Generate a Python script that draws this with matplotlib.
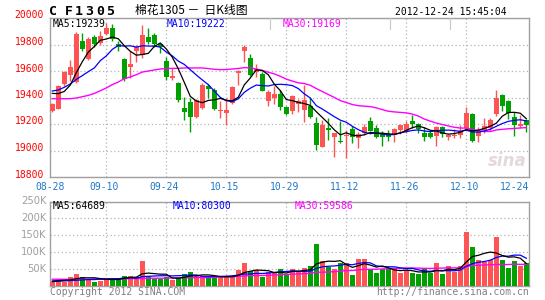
import matplotlib
matplotlib.use('Agg')
import matplotlib.pyplot as plt
import matplotlib.transforms as mtrans
import numpy as np
import pandas as pd

# ---------------- data ----------------
date_labels = ['08-28', '09-10', '09-24', '10-15', '10-29', '11-12', '11-26', '12-10', '12-24']
date_index = [0, 9, 19, 29, 39, 49, 59, 69, 79]

opens = [19296, 19316, 19502, 19572, 19517, 19824, 19693, 19854, 19809, 19879,
         19925, 19804, 19688, 19630, 19748, 19720, 19859, 19872, 19801, 19678,
         19550, 19507, 19318, 19369, 19255, 19320, 19487, 19460, 19300, 19283,
         19358, 19588, 19748, 19700, 19590, 19578, 19376, 19400, 19426, 19330,
         19298, 19352, 19306, 19336, 19208, 19030, 19167, 19100, 19072, 19107,
         19165, 19094, 19130, 19220, 19170, 19132, 19119, 19114, 19157, 19150,
         19220, 19200, 19132, 19132, 19110, 19178, 19100, 19112, 19119, 19168,
         19277, 19112, 19155, 19168, 19275, 19420, 19373, 19256, 19185, 19230]
highs = [19360, 19497, 19602, 19685, 19895, 19889, 19855, 19869, 19900, 19960,
         19955, 19824, 19698, 19748, 19799, 19950, 19922, 19884, 19809, 19703,
         19620, 19520, 19401, 19394, 19390, 19510, 19502, 19475, 19376, 19396,
         19485, 19610, 19800, 19730, 19655, 19595, 19457, 19485, 19460, 19335,
         19420, 19385, 19495, 19394, 19255, 19232, 19243, 19135, 19225, 19157,
         19182, 19140, 19200, 19250, 19195, 19150, 19157, 19170, 19200, 19220,
         19265, 19207, 19175, 19157, 19188, 19185, 19125, 19160, 19195, 19332,
         19282, 19180, 19245, 19243, 19460, 19426, 19378, 19294, 19265, 19238]
lows = [19290, 19310, 19484, 19522, 19510, 19748, 19685, 19779, 19800, 19874,
        19824, 19750, 19527, 19547, 19668, 19700, 19804, 19784, 19733, 19532,
        19535, 19369, 19230, 19142, 19245, 19315, 19396, 19306, 19245, 19195,
        19350, 19497, 19670, 19565, 19557, 19450, 19336, 19350, 19306, 19270,
        19275, 19290, 19218, 19243, 19004, 19025, 19079, 18948, 19060, 18945,
        19057, 19019, 19120, 19145, 19094, 19031, 19074, 19064, 19124, 19132,
        19170, 19132, 19074, 19094, 19032, 19100, 19080, 19092, 19094, 19157,
        19064, 19067, 19132, 19150, 19260, 19296, 19235, 19112, 19170, 19143]
closes = [19351, 19484, 19592, 19628, 19879, 19769, 19844, 19804, 19864, 19925,
          19844, 19779, 19542, 19653, 19779, 19870, 19821, 19804, 19784, 19552,
          19560, 19381, 19293, 19255, 19380, 19495, 19467, 19316, 19308, 19308,
          19477, 19602, 19782, 19568, 19615, 19452, 19442, 19425, 19326, 19278,
          19410, 19377, 19381, 19255, 19042, 19193, 19155, 19135, 19066, 19119,
          19105, 19124, 19180, 19150, 19100, 19099, 19100, 19165, 19195, 19200,
          19200, 19165, 19099, 19099, 19176, 19125, 19118, 19120, 19150, 19282,
          19070, 19145, 19186, 19232, 19397, 19335, 19282, 19195, 19198, 19192]
volumes_k = [13, 21, 12, 27, 35, 27, 20, 13, 15, 24,
             24, 20, 30, 30, 26, 75, 30, 22, 22, 26,
             18, 26, 36, 42, 30, 30, 26, 26, 26, 30,
             30, 46, 67, 45, 48, 26, 40, 40, 50, 36,
             50, 40, 54, 59, 124, 75, 56, 50, 69, 68,
             33, 80, 80, 49, 38, 49, 53, 49, 38, 47,
             39, 35, 49, 37, 68, 35, 59, 42, 59, 160,
             115, 78, 71, 78, 146, 78, 54, 75, 58, 68]

# moving-average values visible before enough history exists
ma5_head = [19431, 19429, 19446, 19494]
ma10_head = [19449, 19457, 19477, 19502, 19537, 19565, 19595, 19623, 19678]
ma30_head = [19391, 19391, 19391, 19391, 19396, 19406, 19416, 19431, 19451, 19472,
             19497, 19517, 19542, 19555, 19572, 19592, 19600, 19608, 19615, 19618,
             19620, 19620, 19623, 19623, 19623, 19623, 19618, 19613, 19610]
vma5_head = [15, 16, 17, 18]
vma10_head = [13, 14, 15, 16, 17, 18, 19, 19, 20]
vma30_head = [20, 20, 20, 20, 20, 20, 20, 21, 21, 21, 21, 21, 21, 22, 22,
              22, 23, 23, 23, 23, 24, 24, 24, 24, 25, 25, 25, 26, 26]

price_ticks = [18800, 19000, 19200, 19400, 19600, 19800, 20000]
vol_ticks = [50000, 100000, 150000, 200000, 250000]
vol_tick_labels = ['50K', '100K', '150K', '200K', '250K']

legend_price = ['MA5:19239', 'MA10:19222', 'MA30:19169']
legend_vol = ['MA5:64689', 'MA10:80300', 'MA30:59586']


def with_head(vals, n, head):
    s = pd.Series(vals, dtype=float).rolling(n).mean().values
    s[:len(head)] = head
    return s


volumes = [v * 1000 for v in volumes_k]
ma5 = with_head(closes, 5, ma5_head)
ma10 = with_head(closes, 10, ma10_head)
ma30 = with_head(closes, 30, ma30_head)
vma5 = with_head(volumes, 5, [v * 1000 for v in vma5_head])
vma10 = with_head(volumes, 10, [v * 1000 for v in vma10_head])
vma30 = with_head(volumes, 30, [v * 1000 for v in vma30_head])

# ---------------- style ----------------
RED = '#ff5454'
GREEN = '#00a000'
FRAME = '#a0a0a0'
GRID = '#b4b4b4'
MONO = 'DejaVu Sans Mono'
W, H = 545, 300

fig = plt.figure(figsize=(W / 100, H / 100), dpi=100)
fig.patch.set_facecolor('white')


def rect(x0, y0, x1, y1):
    return [x0 / W, 1 - y1 / H, (x1 - x0) / W, (y1 - y0) / H]


def fpos(x, y):
    return x / W, 1 - y / H


axp = fig.add_axes(rect(50, 18, 529, 177))
axv = fig.add_axes(rect(50, 201.5, 529, 286))

n = len(closes)
xs = np.arange(n)
xlim = ((50 - 52.3) / 6, (529 - 52.3) / 6)
colors = [RED if c >= o else GREEN for o, c in zip(opens, closes)]

for ax in (axp, axv):
    ax.set_xlim(*xlim)
    ax.set_xticks(date_index[1:-1])
    ax.tick_params(length=0, labelbottom=False, labelleft=False)
    ax.grid(True, color=GRID, linestyle=(0, (1, 2)), linewidth=0.9)
    ax.set_axisbelow(True)
    for sp in ax.spines.values():
        sp.set_color(FRAME)
        sp.set_linewidth(1.0)

# price panel
axp.set_ylim(18800, 20000)
axp.set_yticks(price_ticks)
axp.vlines(xs, lows, highs, colors=colors, linewidth=1.0, zorder=2)
bottoms = [min(o, c) for o, c in zip(opens, closes)]
heights = [max(abs(c - o), 7) for o, c in zip(opens, closes)]
axp.bar(xs, heights, bottom=bottoms, width=0.78, color=colors, linewidth=0, zorder=3)
axp.plot(xs, ma30, color='#ff00ff', linewidth=1.0, zorder=4)
axp.plot(xs, ma10, color='#0000ff', linewidth=0.9, zorder=4)
axp.plot(xs, ma5, color='black', linewidth=0.9, zorder=5)

ptrans = mtrans.blended_transform_factory(fig.transFigure, axp.transData)
for t in price_ticks:
    axp.text(44 / W, t, str(t), transform=ptrans + mtrans.ScaledTranslation(0, 1.8 / 72, fig.dpi_scale_trans),
             ha='right', va='center', color='#ff0000', fontsize=7, family=MONO)

# legend row separators
for sx in (270, 390, 450):
    fig.add_artist(plt.Line2D([sx / W, sx / W], [1 - 18 / H, 1 - 29 / H], color='#c8c8c8', linewidth=0.8))

# watermark
axp.text(0.955, 0.1, 'sina', transform=axp.transAxes, ha='center', va='center',
         fontsize=12, fontweight='bold', style='italic', color='#e6d8d8', zorder=1)

# volume panel
axv.set_ylim(0, 250000)
axv.set_yticks(vol_ticks)
axv.bar(xs, volumes, width=0.78, color=colors, linewidth=0, zorder=3)
axv.plot(xs, vma30, color='#ff00ff', linewidth=1.0, zorder=4)
axv.plot(xs, vma10, color='#0000ff', linewidth=0.9, zorder=4)
axv.plot(xs, vma5, color='black', linewidth=0.9, zorder=5)
vtrans = mtrans.blended_transform_factory(fig.transFigure, axv.transData)
for t, lab in zip(vol_ticks, vol_tick_labels):
    axv.text(46.5 / W, t, lab, transform=vtrans, ha='right', va='center',
             color='#a0a0a0', fontsize=7.2, family='DejaVu Sans')

# date labels
dtrans = mtrans.blended_transform_factory(axp.transData, fig.transFigure)
for i, lab in zip(date_index, date_labels):
    if i == date_index[0]:
        xpos, ha = xlim[0] - 0.05, 'center'
    elif i == date_index[-1]:
        xpos, ha = xlim[1], 'right'
    else:
        xpos, ha = i - 0.3, 'center'
    axp.text(xpos, 1 - 187.5 / H, lab, transform=dtrans, ha=ha, va='center',
             color='#1f78c8', fontsize=7, family=MONO)

# legends
for txt, col, x in zip(legend_price, ['black', '#0000ff', '#ff00ff'], [53, 167, 283]):
    fig.text(*fpos(x, 23.8), txt, ha='left', va='center', color=col, fontsize=7, family=MONO, zorder=10)
for txt, col, x in zip(legend_vol, ['black', '#0000ff', '#ff00ff'], [53, 173, 295]):
    fig.text(*fpos(x, 205.8), txt, ha='left', va='center', color=col, fontsize=7, family=MONO, zorder=10)

# titles
title_chars = ['C', 'F', '1', '3', '0', '5']
title_x = [53.5, 68.5, 79, 89.5, 100, 110.5]
for ch, x in zip(title_chars, title_x):
    fig.text(*fpos(x, 11.3), ch, ha='center', va='center', fontsize=9.5, fontweight='bold',
             family=MONO, color='black')
fig.text(*fpos(135, 10.5), '棉花1305 －  日K线图', ha='left', va='center', fontsize=8.5,
         family=['Noto Sans CJK SC', 'DejaVu Sans'], color='black')
fig.text(*fpos(507, 11.8), '2012-12-24 15:45:04', ha='right', va='center', fontsize=7,
         family=MONO, color='black')
fig.text(*fpos(50, 292), 'Copyright 2012 SINA.COM', ha='left', va='center', fontsize=7,
         family=MONO, color='#808080')
fig.text(*fpos(529, 292), 'http://finance.sina.com.cn', ha='right', va='center', fontsize=7,
         family=MONO, color='#808080')

fig.savefig('out.png', dpi=100, facecolor='white')
